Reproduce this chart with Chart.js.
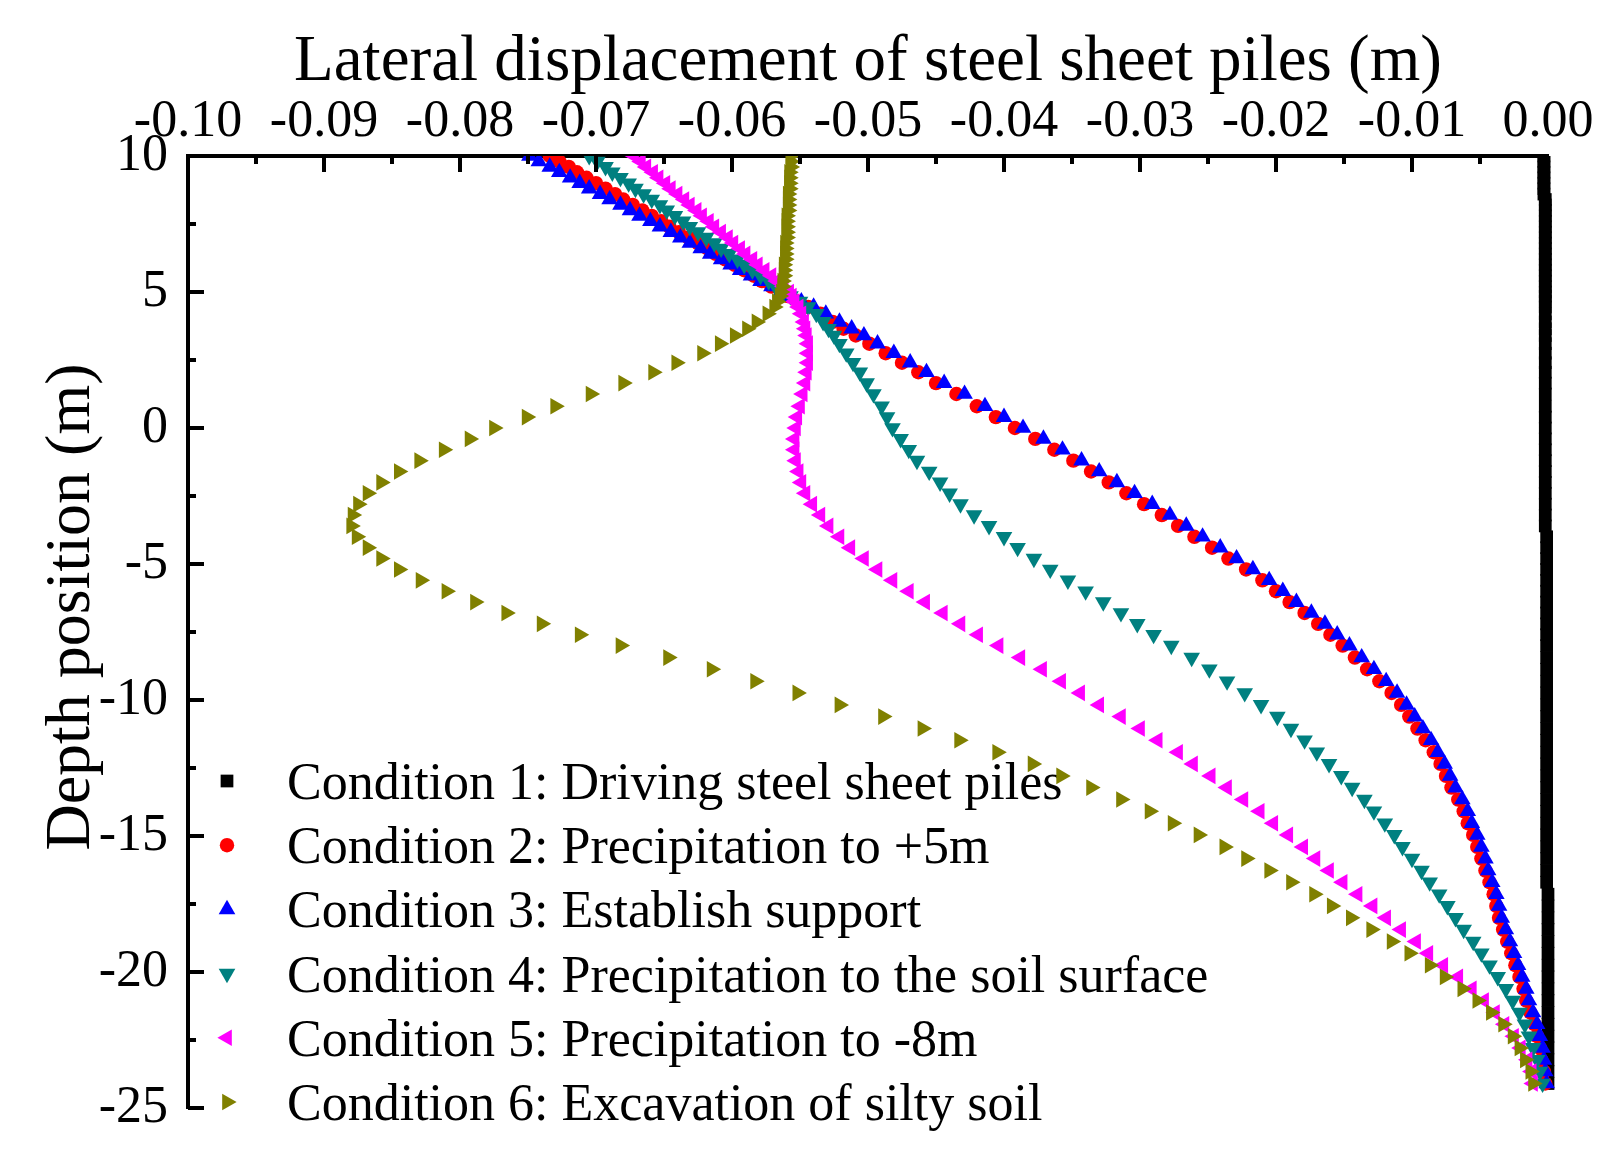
<!DOCTYPE html>
<html>
<head>
<meta charset="utf-8">
<title>Lateral displacement of steel sheet piles</title>
<script src="https://cdn.jsdelivr.net/npm/chart.js@4.4.1/dist/chart.umd.min.js"></script>
<style>
  html, body { margin: 0; padding: 0; background: #fff; }
  canvas { display: block; }
</style>
</head>
<body>
<canvas id="pileChart" width="1607" height="1160"></canvas>
<script>
// depth of each pile node (m)
const depthPos = [
  10.0, 9.8, 9.6, 9.4, 9.2, 9.0, 8.8, 8.6, 8.4, 8.2,
  8.0, 7.8, 7.6, 7.4, 7.2, 7.0, 6.8, 6.6, 6.4, 6.2,
  6.0, 5.8, 5.6, 5.4, 5.2, 5.0,
  4.85, 4.65, 4.45, 4.2, 3.9, 3.65, 3.4, 3.1, 2.75, 2.4, 2.05, 1.65, 1.25, 0.8, 0.4,
  0.0, -0.4, -0.8, -1.2, -1.6, -2.0, -2.4, -2.8, -3.2, -3.6,
  -4.0, -4.4, -4.8, -5.2, -5.6, -6.0, -6.4, -6.8, -7.2, -7.6, -8.0,
  -8.44, -8.87, -9.31, -9.74, -10.18, -10.61, -11.05, -11.48, -11.92, -12.35,
  -12.79, -13.22, -13.66, -14.09, -14.53, -14.96, -15.40, -15.83, -16.27, -16.70,
  -17.14, -17.57, -18.01, -18.44, -18.88, -19.31, -19.75, -20.18, -20.62, -21.05,
  -21.49, -21.92, -22.36, -22.79, -23.23, -23.66, -24.10
];

// lateral displacement (m) per condition, same order as depthPos
const cond1 = [
  -0.0003, -0.0003, -0.0003, -0.0003, -0.0003, -0.0003, -0.0003, -0.0003, -0.0002, -0.0002,
  -0.0002, -0.0002, -0.0002, -0.0002, -0.0002, -0.0002, -0.0002, -0.0002, -0.0002, -0.0002,
  -0.0002, -0.0002, -0.0002, -0.0002, -0.0002, -0.0002,
  -0.0002, -0.0002, -0.0002, -0.0002, -0.0002, -0.0002, -0.0002, -0.0002, -0.0002, -0.0002, -0.0002, -0.0002, -0.0002, -0.0002, -0.0002,
  -0.0002, -0.0002, -0.0002, -0.0002, -0.0002, -0.0002, -0.0002, -0.0002, -0.0002, -0.0002,
  -0.0001, -0.0001, -0.0001, -0.0001, -0.0001, -0.0001, -0.0001, -0.0001, -0.0001, -0.0001, -0.0001,
  -0.0001, -0.0001, -0.0001, -0.0001, -0.0001, -0.0001, -0.0001, -0.0001, -0.0001, -0.0001,
  -0.0001, -0.0001, -0.0001, -0.0001, -0.0001, -0.0001, -0.0001, -0.0001, -0.0001, -0.0001,
  0.0000, 0.0000, 0.0000, 0.0000, 0.0000, 0.0000, 0.0000, 0.0000, 0.0000, 0.0000,
  0.0000, 0.0000, 0.0000, 0.0000, 0.0000, 0.0000, 0.0000
];
const cond2 = [
  -0.0734, -0.0727, -0.0720, -0.0714, -0.0707, -0.0700, -0.0693, -0.0686, -0.0680, -0.0673,
  -0.0666, -0.0659, -0.0652, -0.0646, -0.0639, -0.0632, -0.0625, -0.0618, -0.0612, -0.0605,
  -0.0598, -0.0591, -0.0584, -0.0578, -0.0571, -0.0564,
  -0.0559, -0.0552, -0.0544, -0.0535, -0.0526, -0.0518, -0.0509, -0.0499, -0.0487, -0.0475, -0.0463, -0.0450, -0.0435, -0.0420, -0.0406,
  -0.0392, -0.0377, -0.0363, -0.0349, -0.0336, -0.0323, -0.0310, -0.0297, -0.0284, -0.0272,
  -0.0260, -0.0247, -0.0235, -0.0222, -0.0210, -0.0200, -0.0190, -0.0179, -0.0169, -0.0160, -0.0151,
  -0.0142, -0.0133, -0.0124, -0.0115, -0.0108, -0.0102, -0.0096, -0.0090, -0.0084, -0.0079,
  -0.0075, -0.0071, -0.0066, -0.0062, -0.0059, -0.0055, -0.0052, -0.0049, -0.0046, -0.0043,
  -0.0040, -0.0038, -0.0036, -0.0033, -0.0030, -0.0027, -0.0024, -0.0021, -0.0018, -0.0016,
  -0.0013, -0.0010, -0.0008, -0.0006, -0.0005, -0.0003, -0.0002
];
const cond3 = [
  -0.0749, -0.0742, -0.0734, -0.0727, -0.0719, -0.0712, -0.0705, -0.0697, -0.0690, -0.0682,
  -0.0675, -0.0668, -0.0660, -0.0653, -0.0645, -0.0638, -0.0631, -0.0623, -0.0616, -0.0608,
  -0.0601, -0.0594, -0.0586, -0.0579, -0.0571, -0.0564,
  -0.0557, -0.0549, -0.0540, -0.0531, -0.0521, -0.0512, -0.0503, -0.0493, -0.0481, -0.0469, -0.0457, -0.0444, -0.0429, -0.0414, -0.0400,
  -0.0386, -0.0371, -0.0357, -0.0343, -0.0330, -0.0317, -0.0304, -0.0291, -0.0278, -0.0266,
  -0.0254, -0.0241, -0.0229, -0.0217, -0.0205, -0.0195, -0.0185, -0.0174, -0.0164, -0.0155, -0.0146,
  -0.0137, -0.0128, -0.0119, -0.0111, -0.0104, -0.0098, -0.0092, -0.0086, -0.0081, -0.0076,
  -0.0072, -0.0068, -0.0063, -0.0059, -0.0056, -0.0052, -0.0049, -0.0046, -0.0044, -0.0041,
  -0.0038, -0.0036, -0.0034, -0.0031, -0.0028, -0.0025, -0.0022, -0.0019, -0.0016, -0.0014,
  -0.0011, -0.0008, -0.0006, -0.0004, -0.0003, -0.0002, -0.0001
];
const cond4 = [
  -0.0705, -0.0699, -0.0693, -0.0688, -0.0682, -0.0676, -0.0671, -0.0665, -0.0659, -0.0653,
  -0.0648, -0.0642, -0.0636, -0.0631, -0.0625, -0.0619, -0.0613, -0.0608, -0.0602, -0.0596,
  -0.0591, -0.0585, -0.0579, -0.0573, -0.0568, -0.0562,
  -0.0557, -0.0550, -0.0544, -0.0538, -0.0533, -0.0529, -0.0525, -0.0521, -0.0516, -0.0511, -0.0506, -0.0501, -0.0496, -0.0490, -0.0486,
  -0.0482, -0.0476, -0.0470, -0.0464, -0.0455, -0.0447, -0.0440, -0.0432, -0.0422, -0.0411,
  -0.0400, -0.0390, -0.0378, -0.0366, -0.0353, -0.0340, -0.0327, -0.0314, -0.0302, -0.0290, -0.0277,
  -0.0262, -0.0249, -0.0236, -0.0223, -0.0211, -0.0199, -0.0189, -0.0179, -0.0170, -0.0161,
  -0.0152, -0.0144, -0.0135, -0.0128, -0.0120, -0.0113, -0.0107, -0.0100, -0.0093, -0.0087,
  -0.0080, -0.0074, -0.0068, -0.0062, -0.0055, -0.0049, -0.0043, -0.0037, -0.0031, -0.0026,
  -0.0021, -0.0017, -0.0014, -0.0011, -0.0008, -0.0006, -0.0004
];
const cond5 = [
  -0.0672, -0.0667, -0.0663, -0.0658, -0.0654, -0.0649, -0.0645, -0.0640, -0.0635, -0.0631,
  -0.0626, -0.0622, -0.0617, -0.0613, -0.0608, -0.0603, -0.0599, -0.0594, -0.0590, -0.0585,
  -0.0581, -0.0576, -0.0571, -0.0567, -0.0562, -0.0558,
  -0.0556, -0.0554, -0.0551, -0.0549, -0.0547, -0.0546, -0.0545, -0.0544, -0.0544, -0.0544, -0.0545, -0.0546, -0.0548, -0.0550, -0.0552,
  -0.0553, -0.0554, -0.0554, -0.0553, -0.0551, -0.0549, -0.0546, -0.0541, -0.0535, -0.0529,
  -0.0521, -0.0513, -0.0503, -0.0493, -0.0482, -0.0470, -0.0458, -0.0445, -0.0432, -0.0419, -0.0404,
  -0.0388, -0.0372, -0.0358, -0.0344, -0.0330, -0.0314, -0.0300, -0.0287, -0.0272, -0.0261,
  -0.0248, -0.0236, -0.0224, -0.0212, -0.0202, -0.0191, -0.0180, -0.0171, -0.0161, -0.0151,
  -0.0140, -0.0129, -0.0119, -0.0108, -0.0097, -0.0088, -0.0077, -0.0066, -0.0056, -0.0047,
  -0.0039, -0.0032, -0.0025, -0.0020, -0.0015, -0.0012, -0.0011
];
const cond6 = [
  -0.0557, -0.0557, -0.0557, -0.0558, -0.0558, -0.0558, -0.0558, -0.0559, -0.0559, -0.0559,
  -0.0559, -0.0560, -0.0560, -0.0560, -0.0560, -0.0560, -0.0561, -0.0561, -0.0561, -0.0561,
  -0.0562, -0.0562, -0.0562, -0.0563, -0.0563, -0.0564,
  -0.0565, -0.0567, -0.0569, -0.0574, -0.0582, -0.0589, -0.0598, -0.0609, -0.0622, -0.0641, -0.0658, -0.0680, -0.0704, -0.0730, -0.0751,
  -0.0775, -0.0793, -0.0812, -0.0830, -0.0845, -0.0858, -0.0868, -0.0875, -0.0879, -0.0880,
  -0.0876, -0.0868, -0.0858, -0.0845, -0.0829, -0.0810, -0.0789, -0.0766, -0.0740, -0.0712, -0.0682,
  -0.0647, -0.0615, -0.0583, -0.0552, -0.0521, -0.0489, -0.0460, -0.0433, -0.0405, -0.0379,
  -0.0358, -0.0336, -0.0314, -0.0293, -0.0276, -0.0257, -0.0238, -0.0222, -0.0205, -0.0189,
  -0.0172, -0.0159, -0.0145, -0.0130, -0.0115, -0.0102, -0.0087, -0.0076, -0.0063, -0.0052,
  -0.0042, -0.0033, -0.0026, -0.0021, -0.0017, -0.0013, -0.0011
];

const seriesLabels = [
  'Condition 1: Driving steel sheet piles',
  'Condition 2: Precipitation to +5m',
  'Condition 3: Establish support',
  'Condition 4: Precipitation to the soil surface',
  'Condition 5: Precipitation to -8m',
  'Condition 6: Excavation of silty soil'
];

const xMajorTicks = [-0.10, -0.09, -0.08, -0.07, -0.06, -0.05, -0.04, -0.03, -0.02, -0.01, 0.00];
const xMinorTicks = [-0.095, -0.085, -0.075, -0.065, -0.055, -0.045, -0.035, -0.025, -0.015, -0.005];
const yMajorTicks = [10, 5, 0, -5, -10, -15, -20, -25];
const yMinorTicks = [7.5, 2.5, -2.5, -7.5, -12.5, -17.5, -22.5];

const serif = '"Liberation Serif", "Times New Roman", serif';

const styles = [
  { color: '#000000', shape: 'rect', rot: 0, r: 9 },
  { color: '#FF0000', shape: 'circle', rot: 0, r: 7.2 },
  { color: '#0000FF', shape: 'triangle', rot: 0, r: 9.6 },
  { color: '#008080', shape: 'triangle', rot: 180, r: 9.6 },
  { color: '#FF00FF', shape: 'triangle', rot: -90, r: 9.6 },
  { color: '#808000', shape: 'triangle', rot: 90, r: 9.6 }
];

const allSeries = [cond1, cond2, cond3, cond4, cond5, cond6];

const datasets = allSeries.map((vals, i) => ({
  label: seriesLabels[i],
  data: vals.map((v, k) => ({ x: v, y: depthPos[k] })),
  pointStyle: styles[i].shape,
  pointRotation: styles[i].rot,
  pointRadius: styles[i].r,
  pointBackgroundColor: styles[i].color,
  pointBorderColor: styles[i].color,
  pointBorderWidth: 0,
  showLine: false,
  order: 6 - i,          // later conditions drawn on top
  clip: { left: 0, top: 0, right: 8, bottom: 8 }
}));

// inward major/minor ticks, like the original plot
const inwardTicks = {
  id: 'inwardTicks',
  afterDraw(chart) {
    const { ctx, chartArea: a, scales: { x, y } } = chart;
    ctx.save();
    ctx.strokeStyle = '#000';
    ctx.lineWidth = 4;
    ctx.beginPath();
    xMajorTicks.forEach(v => { const p = x.getPixelForValue(v); ctx.moveTo(p, a.top); ctx.lineTo(p, a.top + 16); });
    xMinorTicks.forEach(v => { const p = x.getPixelForValue(v); ctx.moveTo(p, a.top); ctx.lineTo(p, a.top + 8); });
    yMajorTicks.forEach(v => { const p = y.getPixelForValue(v); ctx.moveTo(a.left, p); ctx.lineTo(a.left + 16, p); });
    yMinorTicks.forEach(v => { const p = y.getPixelForValue(v); ctx.moveTo(a.left, p); ctx.lineTo(a.left + 8, p); });
    ctx.stroke();

    // rotated y axis title
    ctx.fillStyle = '#000';
    ctx.font = '64px ' + serif;
    ctx.textAlign = 'center';
    ctx.textBaseline = 'middle';
    ctx.translate(a.left - 116, (a.top + a.bottom) / 2 - 25);
    ctx.rotate(-Math.PI / 2);
    ctx.fillText('Depth position (m)', 0, 0);
    ctx.restore();
  }
};

// legend in the lower-left corner of the plot area
const cornerLegend = {
  id: 'cornerLegend',
  beforeDatasetsDraw(chart) {
    const { ctx, chartArea: a } = chart;
    const markX = a.left + 39;
    const textX = a.left + 99;
    const rowH = 64.2;
    const firstRow = a.bottom - 6 - rowH * 5;
    ctx.save();
    ctx.font = '52px ' + serif;
    ctx.textAlign = 'left';
    ctx.textBaseline = 'alphabetic';
    chart.data.datasets.forEach((ds, i) => {
      const yy = firstRow + i * rowH;
      ctx.fillStyle = ds.pointBackgroundColor;
      ctx.strokeStyle = ds.pointBackgroundColor;
      Chart.helpers.drawPoint(ctx, {
        pointStyle: ds.pointStyle,
        rotation: ds.pointRotation,
        radius: ds.pointRadius,
        borderWidth: 0
      }, markX, yy);
      ctx.fillStyle = '#000';
      ctx.fillText(ds.label, textX, yy + 18);
    });
    ctx.restore();
  }
};

new Chart(document.getElementById('pileChart'), {
  type: 'scatter',
  data: { datasets },
  options: {
    responsive: false,
    devicePixelRatio: 1,
    animation: false,
    layout: { padding: { left: 0, top: 0, right: 59, bottom: 52 } },
    plugins: {
      legend: { display: false },
      tooltip: { enabled: false }
    },
    scales: {
      x: {
        type: 'linear',
        position: 'top',
        min: -0.10,
        max: 0.00,
        afterBuildTicks: s => { s.ticks = xMajorTicks.map(v => ({ value: v })); },
        afterFit: s => { s.height = 156; s.paddingLeft = 0; s.paddingRight = 0; },
        ticks: {
          autoSkip: false,
          maxRotation: 0,
          minRotation: 0,
          padding: 2,
          color: '#000',
          font: { family: serif, size: 52 },
          callback: v => Math.abs(v) < 1e-9 ? '0.00' : Number(v).toFixed(2)
        },
        grid: { display: false, drawTicks: false },
        border: { display: true, width: 4, color: '#000' },
        title: {
          display: true,
          text: 'Lateral displacement of steel sheet piles (m)',
          color: '#000',
          font: { family: serif, size: 65 },
          padding: { top: 24, bottom: 0 }
        }
      },
      y: {
        type: 'linear',
        position: 'left',
        min: -25,
        max: 10,
        afterBuildTicks: s => { s.ticks = yMajorTicks.map(v => ({ value: v })); },
        afterFit: s => { s.width = 188; s.paddingTop = 0; s.paddingBottom = 0; },
        ticks: {
          autoSkip: false,
          padding: 20,
          color: '#000',
          font: { family: serif, size: 52 }
        },
        grid: { display: false, drawTicks: false },
        border: { display: true, width: 4, color: '#000' }
      }
    }
  },
  plugins: [inwardTicks, cornerLegend]
});
</script>
</body>
</html>
